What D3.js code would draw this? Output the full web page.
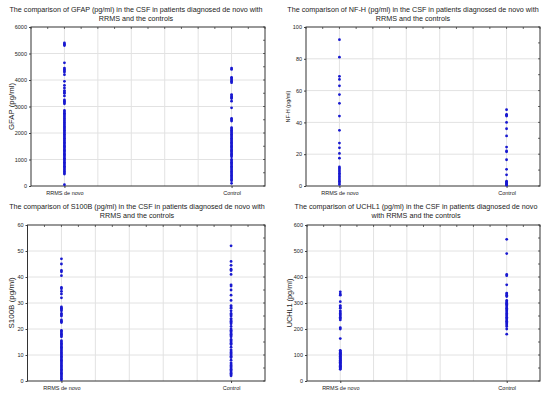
<!DOCTYPE html>
<html><head><meta charset="utf-8">
<script src="https://cdn.jsdelivr.net/npm/d3@7"></script>
<style>body{margin:0;background:#fff}svg{display:block}text{font-family:"Liberation Sans",Arial,sans-serif;fill:#222}</style>
</head><body><svg id="c" width="550" height="397"></svg>
<script>
const categories = ["RRMS de novo", "Control"];
const gfapRRMS = [5400,5350,5300,4650,4450,4400,4350,4300,4200,3950,3800,3700,3600,3550,3500,3400,3250,3200,3150,3100,2850,2800,2750,2700,2650,2600,2550,2500,2450,2400,2350,2300,2250,2200,2150,2100,2050,2000,1950,1900,1850,1800,1750,1700,1650,1600,1550,1500,1450,1400,1350,1300,1250,1200,1150,1100,1050,1000,950,900,850,800,750,700,650,600,550,500,450,50];
const gfapControl = [4450,4400,4100,4050,4000,3950,3900,3450,3400,3350,3300,3200,2950,2550,2500,2450,2200,2150,2100,2050,2000,1950,1900,1850,1800,1750,1700,1650,1600,1550,1500,1450,1400,1350,1300,1250,1200,1150,1100,1000,950,900,850,800,750,700,650,600,550,500,450,400,350,300,250,200,100];
const nfhRRMS = [92,81,69,67,63,57.5,52,44,35,27,24,20.5,17.5,12,11,10,9,8,7,6,5,4,3,2,1];
const nfhControl = [48,45,44.5,44,40,36,31.5,24.5,22,21.5,16.5,10.5,7,3,2.5,2,1.5,1,0.5];
const s100bRRMS = [47,45,42.5,42,40.5,36,35.5,34.5,33.5,32,28.5,28,27.5,27,26,25.5,25,23.5,23,22.5,19.5,19,18.5,18,17.5,17,15.5,15,14.5,14,13.5,13,12.5,12,11.5,11,10.5,10,9.5,9,8.5,8,7.5,7,6.5,6,5.5,5,4.5,4,3.5,3,2.5,2,1.5,1,0.5];
const s100bControl = [52,46,44.5,43,42.5,41,37,36.5,35,33,31,29,28.5,28,27,26,25.5,25,24,23.5,23,22.5,22,21,20,19.5,19,18.5,18,17.5,17,16,15.5,15,14.5,14,13,12,11.5,11,10.5,10,9.5,9,8,7,6.5,6,5.5,5,4.5,4,3.5,3,2.5,2];
const uchl1RRMS = [343,335,330,305,290,285,280,270,265,260,255,250,245,240,235,205,200,163,118,115,112,110,107,105,102,100,97,95,92,90,87,85,82,80,77,75,72,70,67,65,62,60,57,55,52,50,47,45];
const uchl1Control = [545,490,410,405,370,338,335,330,325,310,305,300,298,295,290,285,280,275,270,265,260,255,250,245,240,235,230,225,220,215,210,200,180];
const gfapTicks = [0,1000,2000,3000,4000,5000,6000];
const nfhTicks = [0,20,40,60,80,100];
const s100bTicks = [0,10,20,30,40,50,60];
const uchl1Ticks = [0,100,200,300,400,500,600];
const titles = [
  ["The comparison of GFAP (pg/ml) in the CSF in patients diagnosed de novo with","RRMS and the controls"],
  ["The comparison of NF-H (pg/ml) in the CSF in patients diagnosed de novo with","RRMS and the controls"],
  ["The comparison of S100B (pg/ml) in the CSF in patients diagnosed de novo with","RRMS and the controls"],
  ["The comparison of UCHL1 (pg/ml) in the CSF in patients diagnosed de novo","with RRMS and the controls"]
];
const yLabels = ["GFAP (pg/ml)","NF-H (pg/ml)","S100B (pg/ml)","UCHL1 (pg/ml)"];

const layout = [
  {l:31,r:265,t:27,b:186,cx:136,ty:10,ylx:12,ylfs:7.8,tickv:gfapTicks,data:[gfapRRMS,gfapControl]},
  {l:306,r:540,t:27,b:186,cx:413,ty:10,ylx:289,ylfs:5.5,tickv:nfhTicks,data:[nfhRRMS,nfhControl]},
  {l:27.5,r:265,t:225,b:381,cx:137,ty:207,ylx:12,ylfs:8,tickv:s100bTicks,data:[s100bRRMS,s100bControl]},
  {l:307,r:540,t:225,b:381,cx:416,ty:207,ylx:290,ylfs:7.3,tickv:uchl1Ticks,data:[uchl1RRMS,uchl1Control]}
];
const svg = d3.select("#c");
layout.forEach((p,i)=>{
  const g = svg.append("g");
  const x = d3.scaleLinear().domain([0,7]).range([p.l,p.r]);
  const tv = p.tickv;
  const y = d3.scaleLinear().domain([0,tv[tv.length-1]]).range([p.b,p.t]);
  g.append("g").selectAll("line").data(tv.slice(1,-1)).join("line")
    .attr("x1",p.l).attr("x2",p.r).attr("y1",d=>y(d)).attr("y2",d=>y(d))
    .attr("stroke","#e2e2e2").attr("stroke-width",1);
  g.append("g").selectAll("line").data([1,2,3,4,5,6]).join("line")
    .attr("x1",d=>x(d)).attr("x2",d=>x(d)).attr("y1",p.t).attr("y2",p.b)
    .attr("stroke","#e2e2e2").attr("stroke-width",1);
  const ya = d3.axisLeft(y).tickValues(tv).tickFormat(d3.format("d")).tickSize(2).tickPadding(2);
  const yg = g.append("g").attr("transform",`translate(${p.l},0)`).call(ya);
  yg.select(".domain").remove();
  yg.selectAll("text").attr("font-size",5.5).style("font-family","Liberation Sans, Arial, sans-serif");
  yg.selectAll("line").attr("stroke","#444");
  const xa = d3.axisBottom(x).tickValues([1,6]).tickFormat((d,j)=>categories[j]).tickSize(2).tickPadding(3);
  const xg = g.append("g").attr("transform",`translate(0,${p.b})`).call(xa);
  xg.select(".domain").remove();
  xg.selectAll("text").attr("font-size",5.5).style("font-family","Liberation Sans, Arial, sans-serif");
  xg.selectAll("line").attr("stroke","#444");
  const midY = d3.range(0,tv.length*2-1).map(k=>tv[tv.length-1]*k/((tv.length-1)*2));
  g.append("g").selectAll("line").data(midY).join("line")
    .attr("x1",p.r).attr("x2",p.r-2).attr("y1",d=>y(d)).attr("y2",d=>y(d)).attr("stroke","#444").attr("stroke-width",0.8);
  g.append("g").selectAll("line").data(d3.range(0,14.5,1).map(k=>k/2)).join("line")
    .attr("x1",d=>x(d)).attr("x2",d=>x(d)).attr("y1",p.t).attr("y2",p.t+2).attr("stroke","#444").attr("stroke-width",0.8);
  g.append("rect").attr("x",p.l).attr("y",p.t).attr("width",p.r-p.l).attr("height",p.b-p.t)
    .attr("fill","none").attr("stroke","#333").attr("stroke-width",1);
  p.data.forEach((arr,j)=>{
    g.append("g").selectAll("circle").data(arr).join("circle")
      .attr("cx",x(j===0?1:6)).attr("cy",d=>y(d)).attr("r",1.4).attr("fill","#1818d0");
  });
  titles[i].forEach((t,k)=>{
    svg.append("text").attr("x",p.cx).attr("y",p.ty+k*9.5).attr("text-anchor","middle")
      .attr("font-size",7.2).attr("dominant-baseline","middle").text(t);
  });
  svg.append("text").attr("transform",`translate(${p.ylx},${(p.t+p.b)/2}) rotate(-90)`)
    .attr("text-anchor","middle").attr("dominant-baseline","middle").attr("font-size",p.ylfs).text(yLabels[i]);
});
</script></body></html>
